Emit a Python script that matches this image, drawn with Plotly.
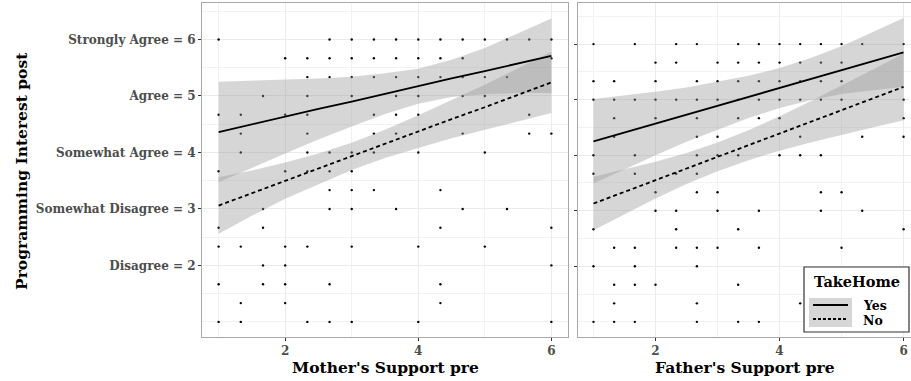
import plotly.graph_objects as go

# ---------------- data ----------------
# Mother's support panel: for each y row, the x values of observed points
mother_rows = {
    6.0:   [1, 2.667, 3, 3.333, 3.667, 4, 4.333, 4.667, 5, 5.333, 5.667, 6],
    5.667: [2, 2.333, 2.667, 3, 3.333, 3.667, 4, 4.333, 4.667, 6],
    5.333: [2.333, 2.667, 3, 3.333, 3.667, 4, 4.333, 4.667, 5, 5.333],
    5.0:   [1.667, 2.333, 3, 3.667, 4, 4.667, 5],
    4.667: [1, 1.333, 2, 2.333, 3.333, 3.667, 4, 5.667],
    4.333: [1.333, 2.333, 3.333, 3.667, 4.667, 5.667, 6],
    4.0:   [1.333, 2.333, 2.667, 3, 3.333, 4, 5],
    3.667: [1, 2, 2.333, 2.667, 3],
    3.333: [2.667, 3, 3.333, 4.333],
    3.0:   [1.667, 2.667, 3, 3.667, 4.667, 5.333],
    2.667: [1, 1.667, 4.333, 6],
    2.333: [1, 1.333, 2, 2.333, 3, 4, 5],
    2.0:   [1.667, 2, 6],
    1.667: [1, 1.667, 2, 2.667, 4.333],
    1.333: [1.333, 2, 4.333],
    1.0:   [1, 1.333, 2.333, 2.667, 3, 4, 6],
}
# Father's support panel
father_rows = {
    6.0:   [1, 1.667, 2.333, 2.667, 3.333, 3.667, 4, 4.333, 4.667, 5, 5.333, 6],
    5.667: [2, 2.333, 3, 3.333, 3.667, 4, 4.333, 4.667, 5],
    5.333: [1, 1.333, 2, 2.667, 3, 3.333, 3.667, 4, 4.333, 4.667, 5],
    5.0:   [1, 1.333, 1.667, 2, 2.333, 2.667, 3, 3.333, 3.667, 4, 4.333, 4.667, 5, 6],
    4.667: [1.333, 2, 2.667, 3.333, 3.667, 4, 6],
    4.333: [1.333, 2.667, 3, 4.333, 5.333, 6],
    4.0:   [1, 1.667, 2.667, 3, 3.333, 4, 4.333, 4.667],
    3.667: [1, 1.667, 2.333, 2.667],
    3.333: [2, 2.667, 3, 4.667, 5],
    3.0:   [2, 2.333, 3, 3.667, 4.667, 5.333],
    2.667: [1, 2.333, 3.333, 6],
    2.333: [1.333, 1.667, 2.333, 2.667, 3, 3.667, 5],
    2.0:   [1, 1.667, 2.667],
    1.667: [1.333, 1.667, 2, 3.333],
    1.333: [1.333, 2.667, 4.333],
    1.0:   [1, 1.333, 1.667, 2.667, 3.333, 3.667],
}

# fitted lines and 95% bands
fit_x = [1, 1.5, 2, 2.5, 3, 3.5, 4, 4.5, 5, 5.5, 6]

mother_yes_fit = [4.36, 4.50, 4.63, 4.77, 4.90, 5.04, 5.17, 5.31, 5.44, 5.58, 5.71]
mother_yes_hi  = [5.25, 5.27, 5.28, 5.31, 5.34, 5.40, 5.48, 5.64, 5.85, 6.11, 6.37]
mother_yes_lo  = [3.47, 3.73, 3.98, 4.23, 4.46, 4.68, 4.86, 4.98, 5.03, 5.05, 5.05]
mother_no_fit  = [3.06, 3.28, 3.50, 3.71, 3.93, 4.15, 4.37, 4.59, 4.80, 5.02, 5.24]
mother_no_hi   = [3.56, 3.68, 3.82, 3.98, 4.17, 4.40, 4.66, 4.93, 5.20, 5.49, 5.78]
mother_no_lo   = [2.56, 2.88, 3.18, 3.44, 3.69, 3.90, 4.08, 4.25, 4.40, 4.55, 4.70]

father_yes_fit = [4.25, 4.41, 4.57, 4.73, 4.89, 5.05, 5.21, 5.37, 5.53, 5.69, 5.85]
father_yes_hi  = [5.01, 5.07, 5.14, 5.22, 5.32, 5.43, 5.57, 5.75, 5.96, 6.21, 6.47]
father_yes_lo  = [3.49, 3.75, 4.00, 4.24, 4.46, 4.67, 4.85, 4.99, 5.10, 5.17, 5.23]
father_no_fit  = [3.13, 3.34, 3.55, 3.76, 3.97, 4.18, 4.39, 4.60, 4.81, 5.02, 5.23]
father_no_hi   = [3.61, 3.74, 3.88, 4.04, 4.23, 4.45, 4.70, 4.97, 5.25, 5.54, 5.83]
father_no_lo   = [2.65, 2.94, 3.22, 3.48, 3.71, 3.91, 4.08, 4.23, 4.37, 4.50, 4.63]

y_tick_vals = [2, 3, 4, 5, 6]
y_tick_text = ["Disagree = 2", "Somewhat Disagree = 3", "Somewhat Agree = 4",
               "Agree = 5", "Strongly Agree = 6"]
x_tick_vals = [2, 4, 6]
x_minor_vals = [1, 3, 5]
y_minor_vals = [1, 1.5, 2.5, 3.5, 4.5, 5.5, 6.5]

legend_title = "TakeHome"
legend_labels = ["Yes", "No"]

# ---------------- figure ----------------
W, H = 911, 381
FONT = "DejaVu Serif"
def px_x(p): return p / W
def px_y(p): return 1 - p / H

RIB = "rgba(153,153,153,0.4)"

fig = go.Figure()

def add_panel(rows, fits, xa, ya):
    xs, ys = [], []
    for yv, xl in rows.items():
        for xv in xl:
            xs.append(xv); ys.append(yv)
    fig.add_trace(go.Scatter(x=xs, y=ys, mode="markers", xaxis=xa, yaxis=ya,
                             marker=dict(size=2.4, color="black"),
                             showlegend=False, hoverinfo="skip"))
    for (fit, hi, lo, dash) in fits:
        fig.add_trace(go.Scatter(x=fit_x + fit_x[::-1], y=hi + lo[::-1],
                                 fill="toself", fillcolor=RIB, mode="lines",
                                 line=dict(width=0), xaxis=xa, yaxis=ya,
                                 showlegend=False, hoverinfo="skip"))
    for (fit, hi, lo, dash) in fits:
        fig.add_trace(go.Scatter(x=fit_x, y=fit, mode="lines", xaxis=xa, yaxis=ya,
                                 line=dict(color="black", width=1.8, dash=dash),
                                 showlegend=False, hoverinfo="skip"))

add_panel(mother_rows,
          [(mother_yes_fit, mother_yes_hi, mother_yes_lo, "solid"),
           (mother_no_fit, mother_no_hi, mother_no_lo, "4px,3px")], "x", "y")
add_panel(father_rows,
          [(father_yes_fit, father_yes_hi, father_yes_lo, "solid"),
           (father_no_fit, father_no_hi, father_no_lo, "4px,3px")], "x2", "y2")

ydom = [px_y(337), px_y(3)]
grid = "#ebebeb"
mgrid = "#f2f2f2"
border = "#a8a8a8"
tickfont = dict(family=FONT, size=12, color="#4d4d4d", weight="bold")

xcommon = dict(tickvals=x_tick_vals, ticktext=[str(v) for v in x_tick_vals],
               showgrid=True, gridcolor=grid, gridwidth=1,
               minor=dict(tickvals=x_minor_vals, showgrid=True, gridcolor=mgrid, gridwidth=1, ticks=""),
               zeroline=False, showline=True, mirror=True, linecolor=border, linewidth=1,
               ticks="outside", ticklen=3, tickcolor="#333333", tickwidth=1,
               tickfont=tickfont)
fig.update_layout(
    width=W, height=H, margin=dict(l=0, r=0, t=0, b=0, autoexpand=False),
    paper_bgcolor="white", plot_bgcolor="white", showlegend=False,
    xaxis=dict(xcommon, domain=[px_x(202), px_x(568)], range=[0.75, 6.25], anchor="y"),
    xaxis2=dict(xcommon, domain=[px_x(578), 1.0], range=[0.75, 6.12], anchor="y2"),
    yaxis=dict(domain=ydom, range=[0.733, 6.645], anchor="x",
               tickvals=y_tick_vals, ticktext=y_tick_text,
               showgrid=True, gridcolor=grid,
               minor=dict(tickvals=y_minor_vals, showgrid=True, gridcolor=mgrid, ticks=""),
               zeroline=False, showline=True, mirror=True, linecolor=border,
               ticks="outside", ticklen=3, tickcolor="#333333", tickfont=tickfont),
    yaxis2=dict(domain=ydom, range=[0.727, 6.74], anchor="x2",
                tickvals=y_tick_vals, showticklabels=False,
                showgrid=True, gridcolor=grid,
                minor=dict(tickvals=y_minor_vals, showgrid=True, gridcolor=mgrid, ticks=""),
                zeroline=False, showline=True, mirror=True, linecolor=border,
                ticks="outside", ticklen=3, tickcolor="#333333"),
)

title_font = dict(family=FONT, size=15.5, color="black")
ann = []
ann.append(dict(text="<b>Mother's Support pre</b>", x=px_x(385), y=px_y(367), xref="paper", yref="paper",
                showarrow=False, font=title_font, xanchor="center", yanchor="middle"))
ann.append(dict(text="<b>Father's Support pre</b>", x=px_x(745), y=px_y(367), xref="paper", yref="paper",
                showarrow=False, font=title_font, xanchor="center", yanchor="middle"))
ann.append(dict(text="<b>Programming Interest post</b>", x=px_x(21), y=px_y(171), xref="paper", yref="paper",
                showarrow=False, font=title_font, textangle=-90, xanchor="center", yanchor="middle"))

# legend box (drawn manually)
shapes = []
shapes.append(dict(type="rect", xref="paper", yref="paper", x0=px_x(804), x1=px_x(909),
                   y0=px_y(332), y1=px_y(267), line=dict(color="#333333", width=1.2), fillcolor="white"))
shapes.append(dict(type="rect", xref="paper", yref="paper", x0=px_x(809), x1=px_x(852),
                   y0=px_y(327), y1=px_y(298), line=dict(width=0), fillcolor="#d6d6d6"))
shapes.append(dict(type="line", xref="paper", yref="paper", x0=px_x(813), x1=px_x(848),
                   y0=px_y(305), y1=px_y(305), line=dict(color="black", width=1.8)))
shapes.append(dict(type="line", xref="paper", yref="paper", x0=px_x(813), x1=px_x(848),
                   y0=px_y(319), y1=px_y(319), line=dict(color="black", width=1.8, dash="3px,2px")))
ann.append(dict(text="<b>" + legend_title + "</b>", x=px_x(857), y=px_y(281), xref="paper", yref="paper",
                showarrow=False, font=dict(family=FONT, size=14.5, color="black"),
                xanchor="center", yanchor="middle"))
for lab, yy in zip(legend_labels, [305, 320]):
    ann.append(dict(text="<b>" + lab + "</b>", x=px_x(861), y=px_y(yy), xref="paper", yref="paper",
                    showarrow=False, font=dict(family=FONT, size=12.5, color="black"),
                    xanchor="left", yanchor="middle"))

fig.update_layout(annotations=ann, shapes=shapes)
fig.write_html("out.html", config={"displayModeBar": False},
               post_script="document.body.style.margin='0';document.body.style.overflow='hidden';")
